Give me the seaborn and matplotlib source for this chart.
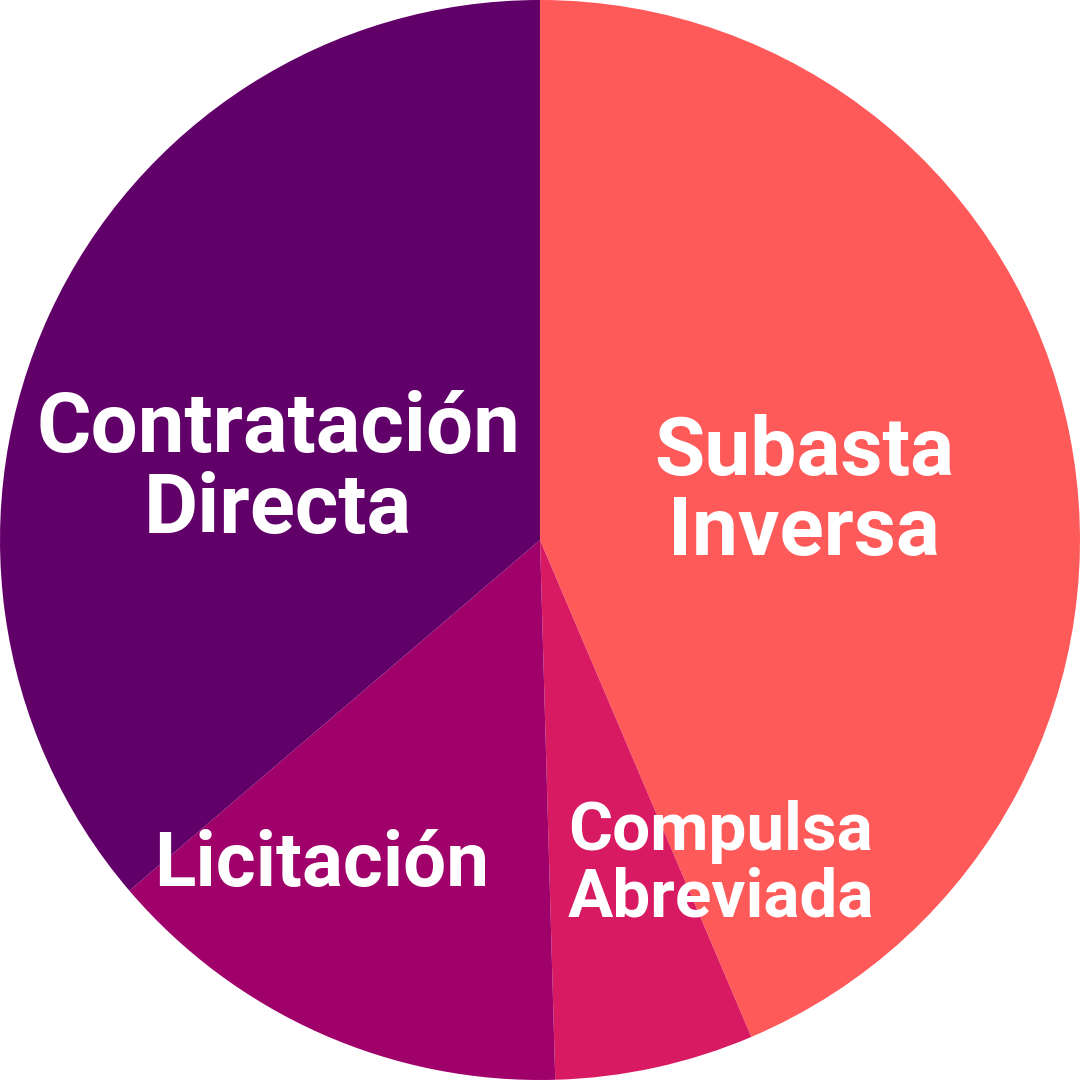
import numpy as np
import matplotlib.pyplot as plt
import seaborn as sns

# %% Data.
categories = ['Subasta\nInversa', 'Compulsa\nAbreviada', 'Licitación', 'Contratación\nDirecta']
shares = [43.6, 5.95, 14.2, 36.25]
colors = ['#FF5A5A', '#D81A62', '#A0006A', '#62006A']

# label placement (radius as fraction of pie radius, angle in degrees) and font size
label_pos = [(0.497, 10.1), (0.689, -60.9), (0.725, -123.85), (0.502, 165.0)]
label_size = [59, 48.5, 55, 60]

# %% Draw.
sns.set_theme(style='white')
plt.rcParams['font.family'] = ['Roboto', 'DejaVu Sans']
palette = sns.color_palette(colors)

fig = plt.figure(figsize=(10.8, 10.8), dpi=100)
ax = fig.add_axes([0, 0, 1, 1])
ax.pie(shares, colors=palette, startangle=90, counterclock=False, radius=1,
       wedgeprops={'linewidth': 0})
for name, (r, a), fs in zip(categories, label_pos, label_size):
    t = np.deg2rad(a)
    ax.text(r * np.cos(t), r * np.sin(t), name, ha='center', va='center',
            multialignment='center', color='white', fontsize=fs,
            fontweight='bold', linespacing=1.04)
ax.set_xlim(-1, 1)
ax.set_ylim(-1, 1)
ax.set_aspect('equal')
ax.axis('off')
fig.savefig('out.png', dpi=100)
